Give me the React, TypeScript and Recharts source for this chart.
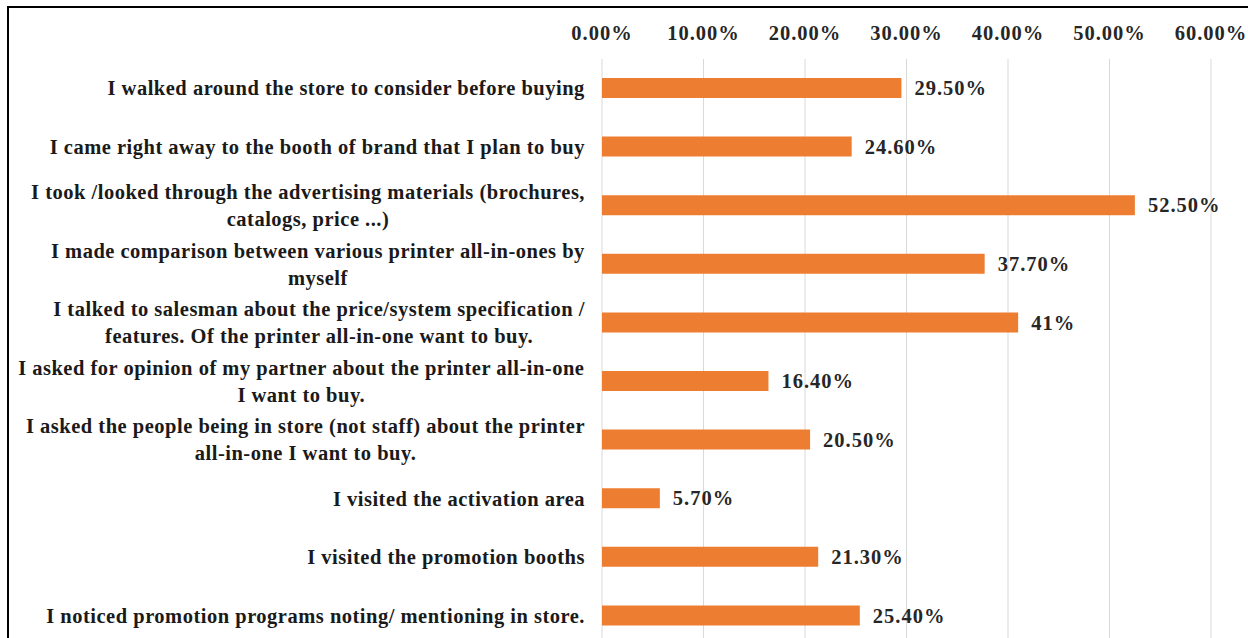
import React from "react";
import { BarChart, Bar, XAxis, YAxis, CartesianGrid, LabelList } from "recharts";

const categories = [
  "I walked around the store to consider before buying",
  "I came right away to the booth of brand that I plan to buy",
  "I took /looked through the advertising materials (brochures,\ncatalogs, price ...)",
  "I made comparison between various printer all-in-ones by\nmyself",
  "I talked to salesman about the price/system specification /\nfeatures. Of the printer all-in-one want to buy.",
  "I asked for opinion of my partner about the printer all-in-one\nI want to buy.",
  "I asked the people being in store (not staff) about the printer\nall-in-one I want to buy.",
  "I visited the activation area",
  "I visited the promotion booths",
  "I noticed promotion programs noting/ mentioning in store.",
];

const shares = [29.5, 24.6, 52.5, 37.7, 41, 16.4, 20.5, 5.7, 21.3, 25.4];

const shareLabels = [
  "29.50%",
  "24.60%",
  "52.50%",
  "37.70%",
  "41%",
  "16.40%",
  "20.50%",
  "5.70%",
  "21.30%",
  "25.40%",
];

const xTicks = [0, 10, 20, 30, 40, 50, 60];

const FONT = '"Liberation Serif", "Times New Roman", serif';
const FONT_SIZE = 20.5;
const LINE_HEIGHT = 27;
const LABEL_SPACING = 0.5;

let ctx: CanvasRenderingContext2D | null = null;
function measure(text: string) {
  if (!ctx) ctx = document.createElement("canvas").getContext("2d");
  if (!ctx) return text.length * FONT_SIZE * 0.5;
  ctx.font = `bold ${FONT_SIZE}px ${FONT}`;
  return ctx.measureText(text).width + text.length * LABEL_SPACING;
}

const CategoryTick = ({ x, y, payload }: any) => {
  const lines: string[] = String(payload.value).split("\n");
  const blockW = Math.max(...lines.map(measure));
  const cx = x - blockW / 2;
  const startY = y - ((lines.length - 1) * LINE_HEIGHT) / 2;
  return (
    <text
      fontFamily={FONT}
      fontWeight="bold"
      fontSize={FONT_SIZE}
      letterSpacing={LABEL_SPACING}
      fill="#1a1a1a"
      textAnchor="middle"
      dominantBaseline="central"
    >
      {lines.map((line, i) => (
        <tspan key={i} x={cx} y={startY + i * LINE_HEIGHT}>
          {line}
        </tspan>
      ))}
    </text>
  );
};

export default function App() {
  const data = categories.map((name, i) => ({
    name,
    share: shares[i],
    label: shareLabels[i],
  }));

  return (
    <div
      style={{
        position: "fixed",
        left: 0,
        top: 0,
        width: 1248,
        height: 638,
        overflow: "hidden",
        background: "#fff",
      }}
    >
      <div
        style={{
          position: "absolute",
          left: 7,
          top: 6,
          width: 1400,
          height: 800,
          borderTop: "2px solid #000",
          borderLeft: "2px solid #000",
        }}
      />
      <div style={{ position: "absolute", left: 0, top: 0 }}>
        <BarChart
          width={1248}
          height={645}
          data={data}
          layout="vertical"
          margin={{ top: 0, right: 37, left: 8, bottom: 0 }}
          barSize={20}
        >
          <CartesianGrid horizontal={false} stroke="#d9d9d9" />
          <XAxis
            type="number"
            orientation="top"
            domain={[0, 60]}
            ticks={xTicks}
            interval={0}
            height={59}
            axisLine={false}
            tickLine={false}
            tickSize={0}
            tickMargin={19}
            tickFormatter={(v: number) => `${v.toFixed(2)}%`}
            tick={{
              fontFamily: FONT,
              fontWeight: "bold",
              fontSize: FONT_SIZE,
              letterSpacing: 1,
              fill: "#262626",
            }}
          />
          <YAxis
            type="category"
            dataKey="name"
            width={594}
            axisLine={false}
            tickLine={false}
            tickSize={0}
            tickMargin={17}
            interval={0}
            tick={<CategoryTick />}
          />
          <Bar dataKey="share" fill="#ED7D31" isAnimationActive={false}>
            <LabelList
              dataKey="label"
              position="right"
              offset={13}
              fill="#262626"
              fontFamily={FONT}
              fontWeight="bold"
              fontSize={FONT_SIZE}
              letterSpacing={1}
            />
          </Bar>
        </BarChart>
      </div>
    </div>
  );
}
